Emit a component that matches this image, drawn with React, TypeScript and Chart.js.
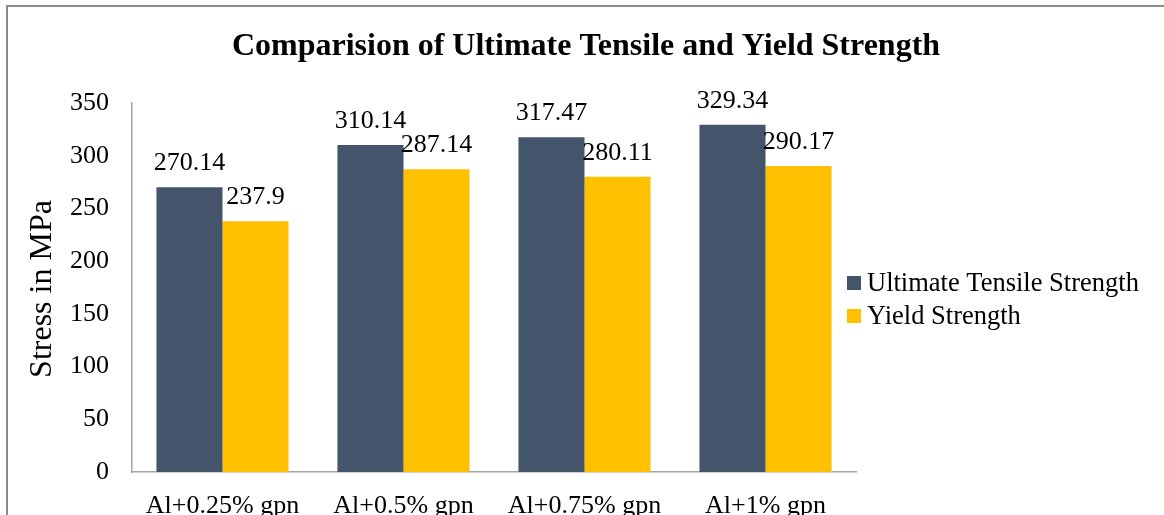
import React, { useEffect, useRef } from "react";
import { Chart, registerables } from "chart.js";

Chart.register(...registerables);

const categories = ["Al+0.25% gpn", "Al+0.5% gpn", "Al+0.75% gpn", "Al+1% gpn"];
const ultimateTensile = [270.14, 310.14, 317.47, 329.34];
const yieldStrength = [237.9, 287.14, 280.11, 290.17];
const seriesNames = ["Ultimate Tensile Strength", "Yield Strength"];
const seriesColors = ["#44546A", "#FFC000"];
const chartTitle = "Comparision of Ultimate Tensile and Yield Strength";
const yAxisTitle = "Stress in MPa";

const SERIF = "'Liberation Serif', 'Times New Roman', serif";

const overlayPlugin = {
  id: "overlay",
  afterDatasetsDraw(chart: any) {
    const ctx = chart.ctx;
    ctx.save();
    // data labels
    ctx.font = `26px ${SERIF}`;
    ctx.fillStyle = "#000";
    ctx.textAlign = "center";
    ctx.textBaseline = "alphabetic";
    chart.data.datasets.forEach((ds: any, di: number) => {
      const meta = chart.getDatasetMeta(di);
      meta.data.forEach((el: any, i: number) => {
        ctx.fillText(String(ds.data[i]), el.x, el.y - 17);
      });
    });
    // title
    ctx.font = `bold 32px ${SERIF}`;
    ctx.textBaseline = "middle";
    ctx.fillText(chartTitle, chart.width / 2, 40);
    // y axis title
    ctx.save();
    ctx.translate(35, 282);
    ctx.rotate(-Math.PI / 2);
    ctx.font = `32px ${SERIF}`;
    ctx.fillText(yAxisTitle, 0, 0);
    ctx.restore();
    // legend
    ctx.font = `26.5px ${SERIF}`;
    ctx.textAlign = "left";
    chart.data.datasets.forEach((ds: any, di: number) => {
      const cy = 276 + di * 33;
      ctx.fillStyle = ds.backgroundColor;
      ctx.fillRect(839, cy - 7, 14, 14);
      ctx.fillStyle = "#000";
      ctx.fillText(ds.label, 859, cy + 1);
    });
    ctx.restore();
  },
};

export default function App() {
  const ref = useRef<HTMLCanvasElement | null>(null);
  useEffect(() => {
    if (!ref.current) return;
    const chart = new Chart(ref.current, {
      type: "bar",
      data: {
        labels: categories,
        datasets: [
          { label: seriesNames[0], data: ultimateTensile, backgroundColor: seriesColors[0] },
          { label: seriesNames[1], data: yieldStrength, backgroundColor: seriesColors[1] },
        ],
      },
      options: {
        animation: false,
        responsive: true,
        maintainAspectRatio: false,
        layout: { padding: { top: 96, left: 0, right: 308, bottom: 0 } },
        datasets: { bar: { categoryPercentage: 0.73, barPercentage: 1.0 } },
        plugins: {
          legend: { display: false },
          title: { display: false },
          tooltip: { enabled: false },
        },
        scales: {
          x: {
            grid: { display: false, drawTicks: false },
            border: { display: true, color: "#a6a6a6", width: 1.5 },
            ticks: { color: "#000", font: { family: SERIF, size: 26 }, padding: 19, maxRotation: 0, autoSkip: false },
            afterFit: (s: any) => { s.height = 95; },
          },
          y: {
            min: 0,
            max: 350,
            grid: { display: false, drawTicks: false },
            border: { display: true, color: "#a6a6a6", width: 1.5 },
            ticks: { stepSize: 50, color: "#000", font: { family: SERIF, size: 26 }, padding: 23 },
            afterFit: (s: any) => { s.width = 124; },
          },
        },
      },
      plugins: [overlayPlugin],
    });
    return () => chart.destroy();
  }, []);
  return (
    <div style={{ position: "fixed", left: 0, top: 0, width: 1164, height: 515, overflow: "hidden", background: "#fff" }}>
      <div style={{ position: "absolute", left: 6, top: 5, borderLeft: "2px solid #8c8c8c", borderTop: "2px solid #8c8c8c", width: 1156, height: 560 }}>
        <div style={{ position: "relative", width: 1156, height: 560 }}>
          <canvas ref={ref} />
        </div>
      </div>
    </div>
  );
}
